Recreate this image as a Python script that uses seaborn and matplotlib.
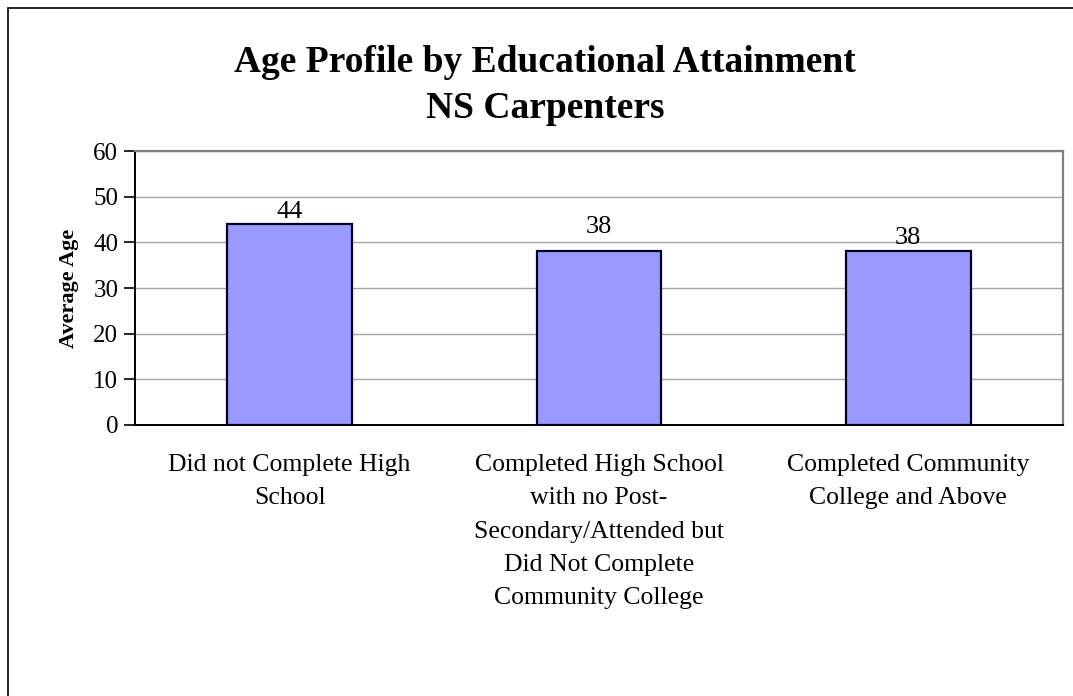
import matplotlib
matplotlib.use("Agg")
import matplotlib.pyplot as plt
import seaborn as sns
import pandas as pd
from matplotlib.patches import Rectangle

categories = [
    "Did not Complete High\nSchool",
    "Completed High School\nwith no Post-\nSecondary/Attended but\nDid Not Complete\nCommunity College",
    "Completed Community\nCollege and Above",
]
average_age = [44, 38, 38]
y_ticks = [0, 10, 20, 30, 40, 50, 60]

title_text = "Age Profile by Educational Attainment\nNS Carpenters"
y_label = "Average Age"

# gap (points) between each bar top and its value label
label_gaps = [1, 10, 2]

sns.set_theme(style="white")
plt.rcParams["font.family"] = ["Liberation Serif", "DejaVu Serif"]
plt.rcParams["text.color"] = "black"
plt.rcParams["axes.labelcolor"] = "black"
plt.rcParams["xtick.color"] = "black"
plt.rcParams["ytick.color"] = "black"

df = pd.DataFrame({"category": categories, "age": average_age})

fig = plt.figure(figsize=(10.73, 6.96), dpi=100)
ax = fig.add_axes([0.1258, 0.3894, 0.8649, 0.3936])

sns.barplot(data=df, x="category", y="age", ax=ax, color="#9999FF",
            saturation=1, width=0.404, edgecolor="#000020", linewidth=1.6,
            zorder=3)

ax.set_ylim(0, 60)
ax.set_yticks(y_ticks)
ax.set_yticklabels([str(t) for t in y_ticks], fontsize=18)
ax.yaxis.grid(True, color="#a6a6a6", linewidth=1.0, zorder=0)
ax.set_axisbelow(True)
ax.tick_params(axis="y", which="both", left=True, length=8, width=1.2,
               color="black", pad=4)
ax.tick_params(axis="x", bottom=False, pad=15)
for lbl in ax.get_xticklabels():
    lbl.set_fontsize(18.5)
    lbl.set_linespacing(1.66)

for side in ("top", "right"):
    ax.spines[side].set_color("#808080")
    ax.spines[side].set_linewidth(1.6)
for side in ("left", "bottom"):
    ax.spines[side].set_color("black")
    ax.spines[side].set_linewidth(1.4)

ax.set_xlabel("")
ax.set_ylabel(y_label, fontsize=16, fontweight="bold", labelpad=10)

bars = ax.containers[0]
for bar, value, gap in zip(bars, average_age, label_gaps):
    ax.bar_label(bars, labels=[f"{value:g}" if b is bar else "" for b in bars],
                 fontsize=19, padding=gap)

fig.text(0.508, 0.877, title_text, ha="center", va="center",
         fontsize=27, fontweight="bold", linespacing=1.4)

# outer chart frame (left and top edges visible)
fig.patches.append(Rectangle((0.0075, -0.05), 1.2, 1.0385, transform=fig.transFigure,
                             fill=False, edgecolor="black", linewidth=1.2))

fig.savefig("out.png", dpi=100, facecolor="white")
